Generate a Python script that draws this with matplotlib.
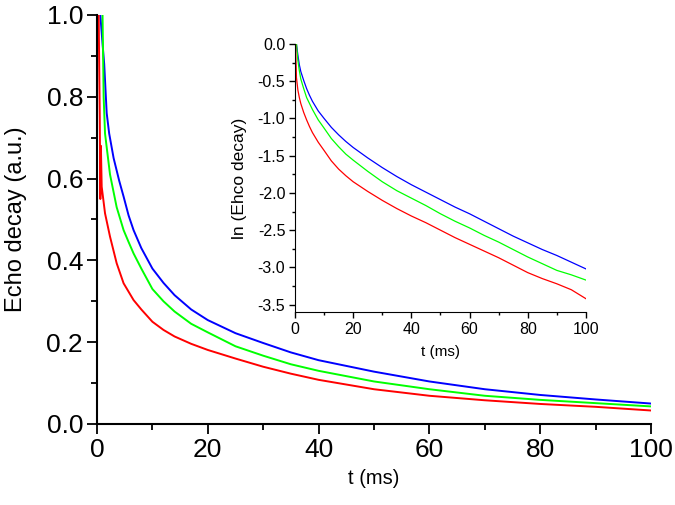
import matplotlib
matplotlib.use("Agg")
import matplotlib.pyplot as plt
from matplotlib.ticker import MultipleLocator, FormatStrFormatter

plt.rcParams['font.family'] = ['Liberation Sans', 'DejaVu Sans']

# === main plot: echo decay (a.u.) ===
t_blue = [0.6, 1.0, 1.3, 1.75, 2.2, 3.0, 4.0, 4.8, 5.7, 6.6, 8, 10, 12, 14, 17, 20, 25, 30, 35,
          40, 50, 60, 70, 80, 90, 100]
v_blue = [1.0, 0.93, 0.88, 0.76, 0.71, 0.65, 0.595, 0.556, 0.51, 0.474, 0.43, 0.38, 0.345,
          0.315, 0.28, 0.254, 0.222, 0.198, 0.175, 0.156, 0.128, 0.104, 0.085, 0.071, 0.060,
          0.050]

t_green = [1.0, 1.2, 1.45, 2.35, 3.55, 4.8, 5.7, 6.6, 8, 10, 12, 14, 17, 20, 25, 30, 35, 40, 50,
           60, 70, 80, 90, 100]
v_green = [1.0, 0.80, 0.71, 0.61, 0.53, 0.474, 0.445, 0.417, 0.38, 0.33, 0.30, 0.275, 0.245,
           0.224, 0.19, 0.167, 0.146, 0.130, 0.104, 0.085, 0.069, 0.059, 0.051, 0.043]

t_red = [0.3, 0.5, 0.6, 0.7, 0.85, 1.45, 2.35, 3.55, 4.8, 6.6, 8, 10, 12, 14, 17, 20, 25, 30,
         35, 40, 50, 60, 70, 80, 90, 100]
v_red = [1.0, 0.75, 0.55, 0.68, 0.58, 0.515, 0.458, 0.393, 0.344, 0.303, 0.28, 0.25, 0.23,
         0.214, 0.196, 0.181, 0.16, 0.140, 0.123, 0.108, 0.085, 0.069, 0.058, 0.049, 0.042,
         0.033]

# === inset: ln(echo decay) ===
t_in = [0.5, 1, 1.5, 2, 3, 4, 5, 6, 8, 10, 12.5, 15, 17.5, 20, 25, 30, 35, 40, 45, 50, 55, 60,
        65, 70, 75, 80, 85, 90, 95, 100]
ln_blue = [0.0, -0.15, -0.28, -0.37, -0.49, -0.60, -0.69, -0.77, -0.90, -1.0, -1.12, -1.22,
           -1.31, -1.39, -1.53, -1.66, -1.78, -1.89, -1.99, -2.09, -2.19, -2.28, -2.38, -2.48,
           -2.58, -2.67, -2.76, -2.84, -2.93, -3.02]
ln_green = [0.0, -0.22, -0.36, -0.47, -0.60, -0.72, -0.80, -0.88, -1.02, -1.13, -1.27, -1.38,
            -1.48, -1.56, -1.71, -1.85, -1.97, -2.07, -2.17, -2.28, -2.38, -2.47, -2.57, -2.66,
            -2.76, -2.86, -2.95, -3.04, -3.10, -3.17]
t_in_red = [0.2] + t_in
ln_red = [0.0, -0.45, -0.62, -0.72, -0.80, -0.92, -1.02, -1.11, -1.19, -1.32, -1.43, -1.57,
          -1.68, -1.77, -1.85, -1.98, -2.10, -2.21, -2.31, -2.40, -2.50, -2.60, -2.69, -2.78,
          -2.87, -2.97, -3.07, -3.15, -3.22, -3.30, -3.42]

fig = plt.figure(figsize=(6.75, 5.05), dpi=100)

# main axes
ax = fig.add_axes([0.1437, 0.1604, 0.8207, 0.81])
ax.plot(t_blue, v_blue, color='#0000ff', lw=1.4)
ax.plot(t_green, v_green, color='#00ff00', lw=1.4)
ax.plot(t_red, v_red, color='#ff0000', lw=1.4)
ax.set_xlim(0, 100)
ax.set_ylim(0, 1.0)
ax.xaxis.set_major_locator(MultipleLocator(20))
ax.xaxis.set_minor_locator(MultipleLocator(10))
ax.yaxis.set_major_locator(MultipleLocator(0.2))
ax.yaxis.set_minor_locator(MultipleLocator(0.1))
ax.yaxis.set_major_formatter(FormatStrFormatter('%.1f'))
ax.tick_params(which='major', direction='out', length=7, width=1.3, labelsize=19, pad=3)
ax.tick_params(which='minor', direction='out', length=4.5, width=1.3)
for s in ['top', 'right']:
    ax.spines[s].set_visible(False)
for s in ['left', 'bottom']:
    ax.spines[s].set_linewidth(1.5)
ax.set_xlabel('t (ms)', fontsize=14.5, labelpad=5)
ax.set_ylabel('Echo decay (a.u.)', fontsize=17, labelpad=14)

# inset axes
axi = fig.add_axes([0.437, 0.382, 0.431, 0.531])
axi.plot(t_in, ln_blue, color='#0000ff', lw=0.9)
axi.plot(t_in, ln_green, color='#00ff00', lw=0.9)
axi.plot(t_in_red, ln_red, color='#ff0000', lw=0.9)
axi.set_xlim(0, 100)
axi.set_ylim(-3.6, 0)
axi.xaxis.set_major_locator(MultipleLocator(20))
axi.xaxis.set_minor_locator(MultipleLocator(10))
axi.yaxis.set_major_locator(MultipleLocator(0.5))
axi.yaxis.set_minor_locator(MultipleLocator(0.25))
axi.yaxis.set_major_formatter(FormatStrFormatter('%.1f'))
axi.tick_params(which='major', direction='out', length=4, width=1, labelsize=11.5, pad=3)
axi.tick_params(which='minor', direction='out', length=2.5, width=1)
for s in ['top', 'right']:
    axi.spines[s].set_visible(False)
axi.set_xlabel('t (ms)', fontsize=11, labelpad=6)
axi.set_ylabel('ln (Ehco decay)', fontsize=12.5, labelpad=8)

fig.savefig('out.png', dpi=100)
